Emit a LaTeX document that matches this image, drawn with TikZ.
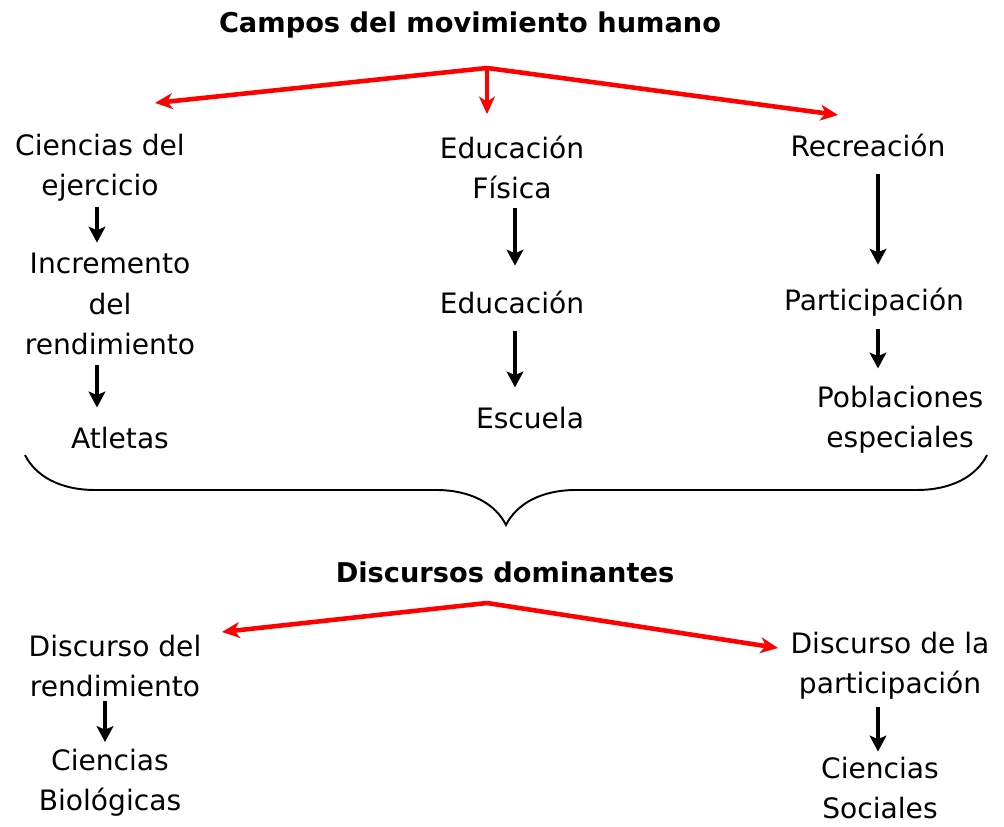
\documentclass[tikz,border=0pt]{standalone}
\usepackage{fontspec}
\setmainfont{DejaVu Sans}
\usetikzlibrary{arrows.meta,decorations.pathreplacing}
\tikzset{
  txt/.style={align=center,inner sep=0pt,font=\fontsize{16}{22.8}\selectfont},
  ttl/.style={inner sep=0pt,font=\fontsize{15.5}{18}\selectfont\bfseries},
  redarrow/.style={draw=red,line width=2.6pt,line join=round,-{Stealth[length=10pt,width=9pt,inset=3pt]}},
  blkarrow/.style={line width=1.8pt,-{Stealth[length=9pt,width=9.5pt,inset=2pt]}}
}
\begin{document}
\begin{tikzpicture}[x=0.02cm,y=-0.02cm]
    \useasboundingbox (0,0) rectangle (1004,827);
    % campos
    \node[ttl] (campos) at (470,25) {Campos del movimiento humano};
    \node[txt] (cien) at (100,168) {Ciencias del\\ejercicio};
    \node[txt] (edfis) at (512,167) {Educación\\Física};
    \node[txt] (recr) at (868,145) {Recreación};
    \node[txt] (incr) at (110,304) {Incremento\\del\\rendimiento};
    \node[txt] (educ) at (512,302) {Educación};
    \node[txt] (part) at (874,302) {Participación};
    \node[txt] (atle) at (120,438) {Atletas};
    \node[txt] (escu) at (530,418) {Escuela};
    \node[txt] (pobl) at (900,420) {Poblaciones\\especiales};
    \coordinate (top1) at (487,68);
    \coordinate (tipL) at (155,103);
    \coordinate (tipR) at (838,115);
    \draw[redarrow] (top1) -- (tipL);
    \draw[redarrow] (top1) -- (tipR);
    \draw[redarrow, shorten >=12] (top1) -- (edfis.north -| top1);
    % columnas
    \coordinate (colA) at (97,0);
    \coordinate (colB) at (105,0);
    \coordinate (colC) at (515,0);
    \coordinate (colD) at (878,0);
    \draw[blkarrow, shorten <=3, shorten >=6] (cien.south -| colA) -- (incr.north -| colA);
    \draw[blkarrow, shorten <=6, shorten >=11] (incr.south -| colA) -- (atle.north -| colA);
    \draw[blkarrow, shorten <=5, shorten >=14] (edfis.south -| colC) -- (educ.north -| colC);
    \draw[blkarrow, shorten <=10, shorten >=11] (educ.south -| colC) -- (escu.north -| colC);
    \draw[blkarrow, shorten <=10, shorten >=13] (recr.south -| colD) -- (part.north -| colD);
    \draw[blkarrow, shorten <=7, shorten >=10] (part.south -| colD) -- (pobl.north -| colD);
    \draw[line width=1.1pt, decorate, decoration={brace, amplitude=1.4cm, aspect=0.5}] (987,455) -- (25,455);
    % discursos
    \node[ttl] (disc) at (505,572) {Discursos dominantes};
    \node[txt] (drend) at (115,666) {Discurso del\\rendimiento};
    \node[txt] (dpart) at (890,666) {Discurso de la\\participación};
    \node[txt] (cbio) at (110,783) {Ciencias\\Biológicas};
    \node[txt] (csoc) at (880,788) {Ciencias\\Sociales};
    \coordinate (top2) at (487,603);
    \coordinate (tipDL) at (222,632);
    \coordinate (tipDR) at (778,648);
    \draw[redarrow] (top2) -- (tipDL);
    \draw[redarrow] (top2) -- (tipDR);
    \draw[blkarrow, shorten <=2, shorten >=4] (drend.south -| colB) -- (cbio.north -| colB);
    \draw[blkarrow, shorten <=4, shorten >=3] (dpart.south -| colD) -- (csoc.north -| colD);
\end{tikzpicture}
\end{document}
